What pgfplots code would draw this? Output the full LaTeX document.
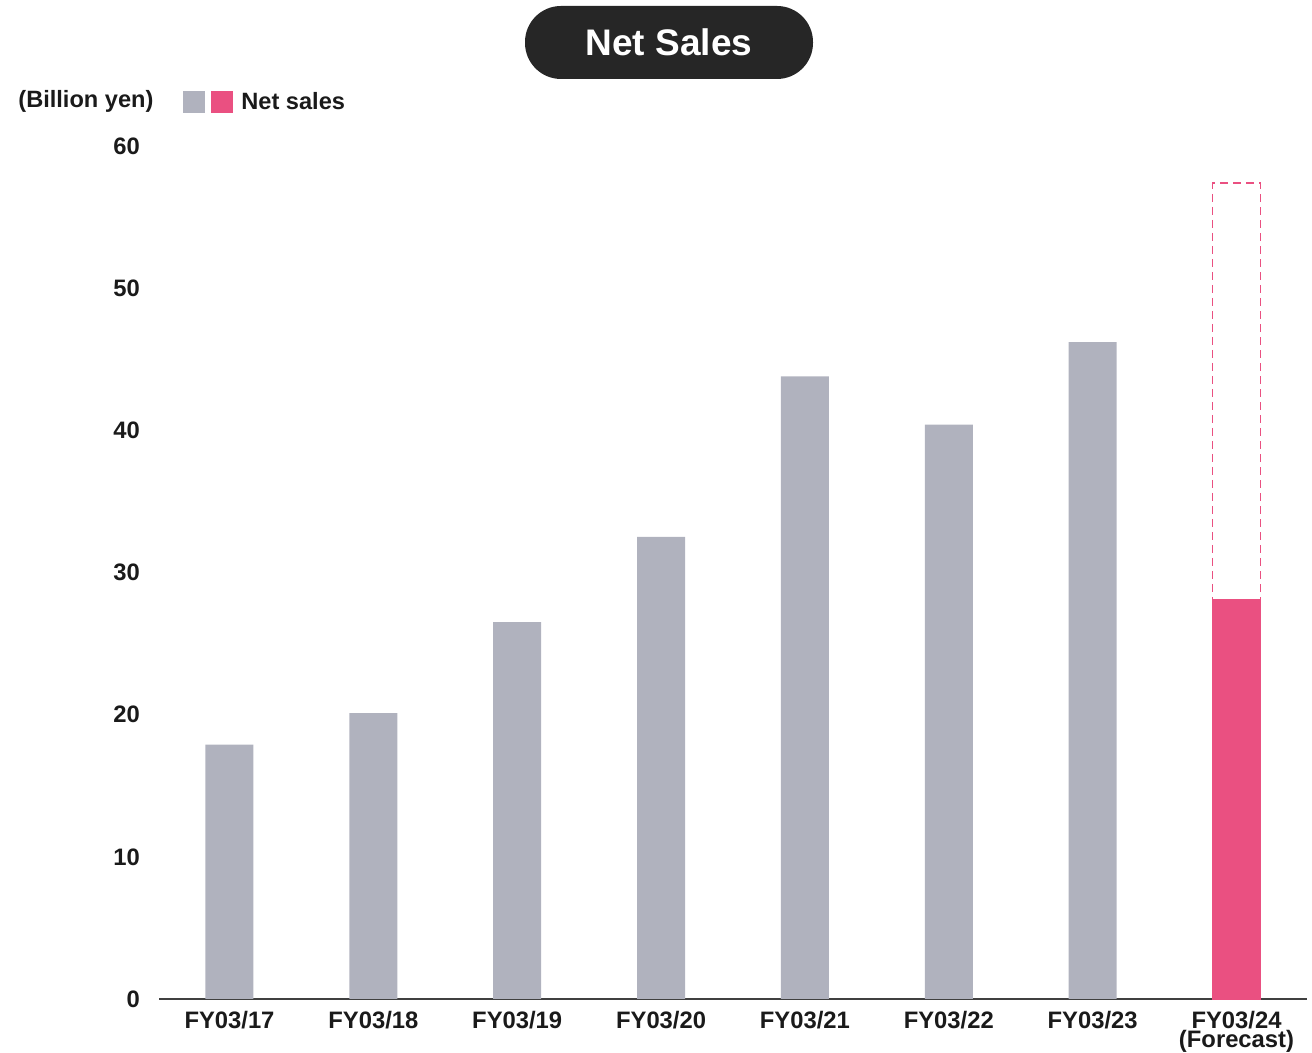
\documentclass[border=0pt]{standalone}
\usepackage{fontspec}
\setmainfont{Liberation Sans}
\usepackage{pgfplots}
\pgfplotsset{compat=1.18}
\definecolor{barGray}{HTML}{B0B2BE}
\definecolor{barPink}{HTML}{EA5081}
\definecolor{titleBg}{HTML}{262626}
\definecolor{txt}{HTML}{1A1A1A}
\begin{document}
\begin{tikzpicture}[x=0.5pt,y=0.5pt]
\path[use as bounding box] (0,0) rectangle (1312,1053);
\begin{axis}[
  at={(79.5pt,27pt)}, anchor=south west,
  scale only axis, width=574pt, height=426.5pt,
  xmin=-0.49, xmax=7.49, ymin=0, ymax=60,
  axis lines*=left, axis line style={-},
  y axis line style={draw=none},
  x axis line style={draw=black!75, line width=0.6pt},
  major tick length=0,
  xtick={0,...,7},
  xticklabels={FY03/17,FY03/18,FY03/19,FY03/20,FY03/21,FY03/22,FY03/23,{FY03/24\\[-2.5pt](Forecast)}},
  xticklabel style={align=center, font=\fontsize{11.9pt}{12pt}\selectfont\bfseries, text=txt, yshift=-2.5pt},
  ytick={0,10,...,60},
  yticklabel style={font=\fontsize{11.9pt}{12pt}\selectfont\bfseries, text=txt, xshift=-6pt},
  /pgf/number format/assume math mode=true,
  clip=false,
]
\addplot[ybar, bar width=24pt, bar shift=0pt, draw=barPink, fill=none, line width=0.9pt, dash pattern=on 4pt off 2.5pt] coordinates {(7,57.4)};
\addplot[ybar, bar width=24pt, bar shift=0pt, draw=none, fill=barGray] coordinates {(0,17.9) (1,20.1) (2,26.5) (3,32.5) (4,43.8) (5,40.4) (6,46.2)};
\addplot[ybar, bar width=24pt, bar shift=0pt, draw=barPink, line width=0.9pt, fill=barPink] coordinates {(7,28.1)};
\end{axis}
\node[fill=titleBg, rounded corners=18pt, minimum width=144pt, minimum height=36.5pt, text=white, font=\fontsize{18.5pt}{19pt}\selectfont\bfseries] at (669,1010.5) {Net Sales};
\node[anchor=west, inner sep=0, font=\fontsize{11.8pt}{12pt}\selectfont\bfseries, text=txt] at (18,952) {(Billion yen)};
\fill[barGray] (183,940) rectangle (205,962);
\fill[barPink] (211,940) rectangle (233,962);
\node[anchor=west, inner sep=0, font=\fontsize{11.8pt}{12pt}\selectfont\bfseries, text=txt] at (241,952) {Net sales};
\end{tikzpicture}
\end{document}
